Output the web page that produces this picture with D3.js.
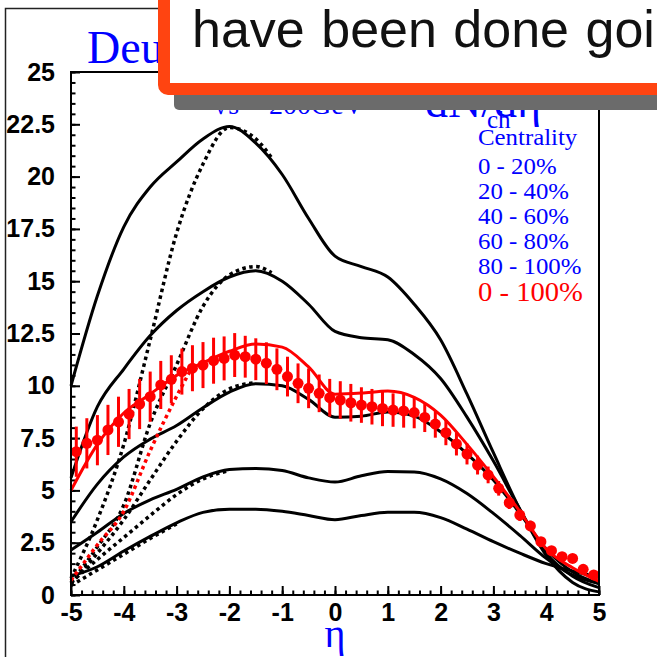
<!DOCTYPE html>
<html>
<head>
<meta charset="utf-8">
<script src="https://cdn.jsdelivr.net/npm/d3@7"></script>
<style>
  body { margin: 0; background: #fff; }
  svg { display: block; }
</style>
</head>
<body>
<svg width="657" height="657"></svg>
<script>
// eta grid used for the model curves
var etaGrid = [-5, -4.5, -4, -3.5, -3, -2.5, -2, -1.5, -1, -0.5, 0, 0.5, 1, 1.5, 2, 2.5, 3, 3.5, 4, 4.5, 5];

// solid curves, one per centrality bin
var cent0020 = [10.0, 14.3, 17.6, 19.5, 20.7, 21.8, 22.4, 21.6, 20.1, 18.0, 16.2, 15.7, 15.2, 13.9, 12.2, 9.6, 6.8, 4.1, 1.9, 0.6, 0.15];
var cent2040 = [5.6, 9.0, 10.8, 12.4, 13.6, 14.5, 15.2, 15.5, 15.0, 13.9, 12.6, 12.3, 12.2, 11.5, 10.35, 8.5, 6.4, 4.1, 2.0, 0.9, 0.35];
var cent4060 = [3.5, 5.3, 6.6, 7.45, 8.1, 8.95, 9.7, 10.1, 10.0, 9.35, 8.5, 8.55, 8.75, 8.55, 7.8, 6.75, 5.5, 3.9, 2.2, 1.1, 0.55];
var cent6080 = [2.15, 3.0, 3.9, 4.55, 5.05, 5.65, 6.0, 6.05, 5.95, 5.6, 5.4, 5.7, 5.9, 5.88, 5.55, 4.85, 3.9, 2.85, 1.75, 0.95, 0.55];
var cent80100 = [0.9, 1.35, 2.1, 2.8, 3.45, 3.95, 4.1, 4.1, 4.0, 3.8, 3.6, 3.8, 3.95, 3.95, 3.7, 3.15, 2.55, 2.0, 1.5, 1.15, 0.85];
var centAll = [5.0, 7.2, 8.7, 9.6, 10.5, 11.1, 11.65, 12.0, 11.85, 10.9, 9.6, 9.65, 9.75, 9.45, 8.6, 7.2, 5.65, 4.0, 2.2, 1.3, 0.65];

// dotted curves on the backward side
var dotEta0020 = [-5, -4.5, -4, -3.5, -3, -2.5, -2, -1.5, -1.2];
var dot0020 = [0.8, 3.6, 7.2, 12.2, 17.3, 20.6, 22.35, 21.8, 20.9];
var dotEta2040 = [-5, -4.5, -4, -3.5, -3, -2.5, -2, -1.5, -1.2];
var dot2040 = [0.6, 2.3, 4.3, 8.2, 11.0, 13.8, 15.3, 15.7, 15.4];
var dotEta4060 = [-5, -4.5, -4, -3.5, -3, -2.5, -2, -1.5];
var dot4060 = [0.55, 2.0, 3.6, 5.5, 7.35, 8.9, 9.85, 10.15];
var dotEta6080 = [-5, -4.5, -4, -3.5, -3, -2.5, -2];
var dot6080 = [0.6, 1.7, 2.75, 3.8, 4.8, 5.55, 5.95];
var dotEta80100 = [-5, -4.5, -4, -3.5, -3];
var dot80100 = [0.45, 1.2, 1.95, 2.7, 3.4];
var dotEtaAll = [-5, -4.5, -4, -3.5, -3, -2.7];
var dotAll = [0.7, 2.4, 4.0, 6.9, 9.5, 10.9];

// measured points, 0 - 100%
var etaPts = [-4.9, -4.7, -4.5, -4.3, -4.1, -3.9, -3.7, -3.5, -3.3, -3.1,
              -2.9, -2.7, -2.5, -2.3, -2.1, -1.9, -1.7, -1.5, -1.3, -1.1,
              -0.9, -0.7, -0.5, -0.3, -0.1, 0.1, 0.3, 0.5, 0.7, 0.9,
              1.1, 1.3, 1.5, 1.7, 1.9, 2.1, 2.3, 2.5, 2.7, 2.9,
              3.1, 3.3, 3.5, 3.7, 3.9, 4.1, 4.3, 4.5, 4.7, 4.9];
var dndeta = [6.85, 7.25, 7.4, 7.89, 8.28, 8.65, 9.13, 9.48, 10.04, 10.31,
              10.68, 10.84, 10.99, 11.2, 11.31, 11.47, 11.39, 11.27, 11.08, 10.79,
              10.44, 10.12, 9.88, 9.64, 9.43, 9.32, 9.19, 9.08, 9.0, 8.92,
              8.84, 8.8, 8.72, 8.49, 8.17, 7.76, 7.22, 6.74, 6.21, 5.74,
              5.1, 4.41, 3.82, 3.3, 2.55, 2.12, 1.83, 1.75, 1.23, 0.96];
var errs = [1.2, 1.2, 1.2, 1.2, 1.2, 1.2, 1.2, 1.2, 1.15, 1.15,
            1.1, 1.1, 1.1, 1.1, 1.05, 1.05, 1.0, 1.0, 1.0, 1.0,
            0.95, 0.95, 0.95, 0.9, 0.9, 0.9, 0.9, 0.85, 0.85, 0.85,
            0.8, 0.8, 0.75, 0.7, 0.65, 0.6, 0.55, 0.5, 0.45, 0.4,
            0.35, 0.3, 0.28, 0.25, 0.2, 0.18, 0.15, 0.15, 0.12, 0.1];

var legendLabels = ["0 - 20%", "20 - 40%", "40 - 60%", "60 - 80%", "80 - 100%"];
var legendAll = "0 - 100%";
var xTicks = [-5, -4, -3, -2, -1, 0, 1, 2, 3, 4, 5];
var yTicks = [0, 2.5, 5, 7.5, 10, 12.5, 15, 17.5, 20, 22.5, 25];

var svg = d3.select("svg");
var plotL = 71, plotR = 599, plotT = 72, plotB = 595;

var x = d3.scaleLinear().domain([-5, 5]).range([plotL, plotR]);
var y = d3.scaleLinear().domain([0, 25]).range([plotB, plotT]);

// outer canvas frame
svg.append("rect")
    .attr("x", 5.5).attr("y", 8.5)
    .attr("width", 700).attr("height", 700)
    .attr("fill", "none").attr("stroke", "#222").attr("stroke-width", 1.5);

// titles (mostly hidden behind the box)
svg.append("text")
    .attr("x", 87).attr("y", 63)
    .style("font-family", "Liberation Serif").style("font-size", "46px")
    .attr("fill", "#0000ff")
    .text("Deuteron-Gold");
svg.append("text")
    .attr("x", 213).attr("y", 114)
    .style("font-family", "Liberation Serif").style("font-size", "28px")
    .attr("fill", "#0000ff")
    .text("√s = 200GeV");
svg.append("text")
    .attr("x", 425).attr("y", 117)
    .style("font-family", "Liberation Serif").style("font-size", "46px")
    .attr("fill", "#0000ff")
    .text("dN/dη");
svg.append("text")
    .attr("x", 487).attr("y", 128)
    .style("font-family", "Liberation Serif").style("font-size", "25px")
    .attr("fill", "#0000ff")
    .text("ch");

// axes, ticks drawn inside the frame
var minorX = d3.range(-5, 5.0001, 0.2);
var minorY = d3.range(0, 25.0001, 0.5);

var xAxisG = svg.append("g").attr("transform", "translate(0," + plotB + ")");
xAxisG.call(d3.axisBottom(x).tickValues(minorX).tickSize(-4.5).tickFormat(""));
xAxisG.append("g").call(d3.axisBottom(x).tickValues(xTicks).tickSize(-9).tickPadding(8).tickFormat(d => String(d)));

var yAxisG = svg.append("g").attr("transform", "translate(" + plotL + ",0)");
yAxisG.call(d3.axisLeft(y).tickValues(minorY).tickSize(-4.5).tickFormat(""));
yAxisG.append("g").call(d3.axisLeft(y).tickValues(yTicks).tickSize(-9).tickPadding(16).tickFormat(d => String(d)));

svg.selectAll(".domain").remove();
svg.selectAll(".tick line").attr("stroke", "#000").attr("stroke-width", 2);
svg.selectAll(".tick text")
    .style("font-family", "Liberation Sans").style("font-weight", "bold")
    .style("font-size", "25px").attr("fill", "#000");

// eta label
svg.append("text")
    .attr("x", 335).attr("y", 647)
    .attr("text-anchor", "middle")
    .style("font-family", "Liberation Serif").style("font-size", "40px")
    .attr("fill", "#0000ff")
    .text("η");

var line = d3.line()
    .x(d => x(d[0]))
    .y(d => y(d[1]))
    .curve(d3.curveMonotoneX);

function drawCurve(etas, vals, color, dotted) {
    svg.append("path")
        .datum(etas.map((e, i) => [e, vals[i]]))
        .attr("d", line)
        .attr("fill", "none")
        .attr("stroke", color)
        .attr("stroke-width", dotted ? 3.5 : 3)
        .attr("stroke-dasharray", dotted ? "3.5,3.5" : null);
}

var blacks = [cent0020, cent2040, cent4060, cent6080, cent80100];
blacks.forEach(v => drawCurve(etaGrid, v, "#000", false));
drawCurve(dotEta0020, dot0020, "#000", true);
drawCurve(dotEta2040, dot2040, "#000", true);
drawCurve(dotEta4060, dot4060, "#000", true);
drawCurve(dotEta6080, dot6080, "#000", true);
drawCurve(dotEta80100, dot80100, "#000", true);

drawCurve(etaGrid, centAll, "#ff0000", false);
drawCurve(dotEtaAll, dotAll, "#ff0000", true);

// data points with error bars
var pts = etaPts.map((e, i) => ({ eta: e, v: dndeta[i], err: errs[i] }));
var ptG = svg.append("g").selectAll("g").data(pts).enter().append("g");
ptG.append("line")
    .attr("x1", d => x(d.eta)).attr("x2", d => x(d.eta))
    .attr("y1", d => y(d.v + d.err)).attr("y2", d => y(d.v - d.err))
    .attr("stroke", "#ff0000").attr("stroke-width", 3);
ptG.append("circle")
    .attr("cx", d => x(d.eta)).attr("cy", d => y(d.v))
    .attr("r", 5.5)
    .attr("fill", "#ff0000");

// plot frame
svg.append("rect")
    .attr("x", plotL).attr("y", plotT)
    .attr("width", plotR - plotL).attr("height", plotB - plotT)
    .attr("fill", "none").attr("stroke", "#000").attr("stroke-width", 2);

// legend
var leg = svg.append("g").attr("transform", "translate(478,0) scale(1.08,1)");
leg.append("text")
    .attr("x", 0).attr("y", 145)
    .style("font-family", "Liberation Serif").style("font-size", "23px")
    .attr("fill", "#0000ff")
    .text("Centrality");
leg.selectAll("text.entry")
    .data(legendLabels)
    .enter()
    .append("text")
    .attr("class", "entry")
    .attr("x", 0)
    .attr("y", (d, i) => 174 + i * 25)
    .style("font-family", "Liberation Serif").style("font-size", "23px")
    .attr("fill", "#0000ff")
    .text(d => d);
leg.append("text")
    .attr("x", 0).attr("y", 301)
    .style("font-family", "Liberation Serif").style("font-size", "26.5px")
    .attr("fill", "#ff0000")
    .text(legendAll);

// overlay box on top
svg.append("rect")
    .attr("x", 174).attr("y", -20)
    .attr("width", 520).attr("height", 130)
    .attr("rx", 5)
    .attr("fill", "#6b6b6b");
svg.append("rect")
    .attr("x", 164).attr("y", -20)
    .attr("width", 520).attr("height", 109)
    .attr("rx", 4)
    .attr("fill", "#fff")
    .attr("stroke", "#ff4411").attr("stroke-width", 12);
svg.append("text")
    .attr("x", 192).attr("y", 47)
    .style("font-family", "Liberation Sans").style("font-size", "52px")
    .style("word-spacing", "2px")
    .attr("fill", "#111")
    .text("have been done going");
</script>
</body>
</html>
